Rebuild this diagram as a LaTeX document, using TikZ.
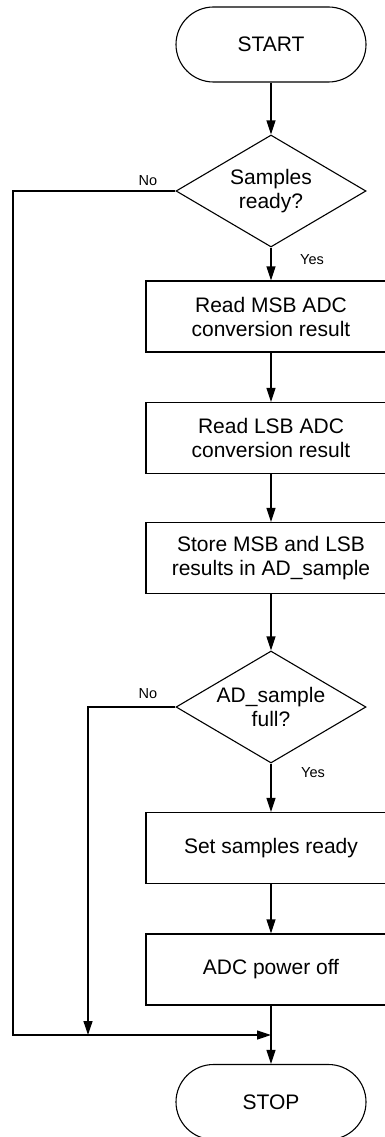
\documentclass[tikz,border=0pt]{standalone}
\usepackage{fontspec}
\setmainfont{Liberation Sans}
\usetikzlibrary{shapes.geometric,arrows.meta}
\begin{document}
\begin{tikzpicture}[x=1pt,y=-1pt,
  base/.style={draw=black,line width=1.1pt,font=\fontsize{21}{24}\selectfont,align=center},
  terminal/.style={base,rectangle,rounded corners=37.5pt,minimum width=190pt,minimum height=75pt},
  process/.style={base,rectangle,minimum width=250pt,minimum height=71pt},
  decision/.style={base,diamond,aspect=1.7,inner sep=0pt,minimum width=190pt,minimum height=112pt},
  flow/.style={line width=1.2pt,-{Triangle[length=14pt,width=9pt]}},
  wire/.style={line width=1.2pt},
  tag/.style={font=\fontsize{14.5}{16}\selectfont}]
\useasboundingbox (0,0) rectangle (385,1137);
\clip (0,0) rectangle (385,1137);

% flowchart blocks
\node[terminal] (start) at (271,44.5) {START};
\node[decision] (d1) at (271,191) {Samples\\ready?};
\node[process] (msb) at (271,316.5) {Read MSB ADC\\conversion result};
\node[process] (lsb) at (271,438) {Read LSB ADC\\conversion result};
\node[process] (store) at (271,558) {Store MSB and LSB\\results in AD\_sample};
\node[decision] (d2) at (271,707) {AD\_sample\\full?};
\node[process] (ready) at (271,848) {Set samples ready};
\node[process] (off) at (271,969.5) {ADC power off};
\node[terminal] (stop) at (271,1102) {STOP};

% collecting points on the bottom rail
\coordinate (rail) at (271,1035);
\coordinate (outer) at (13,1035);
\coordinate (inner) at (88,1035);

% main sequence
\draw[flow] (start) -- (d1);
\draw[flow] (d1) -- (msb);
\draw[flow] (msb) -- (lsb);
\draw[flow] (lsb) -- (store);
\draw[flow] (store) -- (d2);
\draw[flow] (d2) -- (ready);
\draw[flow] (ready) -- (off);
\draw[flow] (off) -- (stop);

% "No" branches
\draw[flow] (d1.west) -| (outer) -- (rail);
\draw[flow] (d2.west) -| (inner);

% branch labels
\node[tag] (no1) at (148,181) {No};
\node[tag] (yes1) at (312,260) {Yes};
\node[tag] (no2) at (148,694) {No};
\node[tag] (yes2) at (313,773) {Yes};
\end{tikzpicture}
\end{document}
